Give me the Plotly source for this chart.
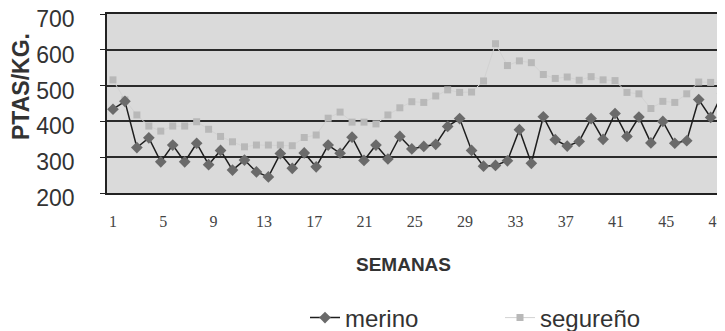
import plotly.graph_objects as go

weeks = list(range(1, 53))
merino = [434, 456, 327, 354, 287, 334, 287, 339, 279, 319, 264, 292, 259, 245, 310, 269,
          312, 273, 334, 311, 356, 291, 334, 295, 358, 323, 330, 336, 386, 408, 319, 275,
          277, 290, 377, 283, 413, 349, 331, 344, 408, 350, 422, 358, 412, 340, 400, 339,
          346, 461, 411, 478]
segureno = [516, 460, 418, 387, 373, 387, 387, 399, 378, 358, 343, 329, 334, 334, 334, 332,
            355, 362, 409, 426, 398, 398, 393, 418, 438, 455, 453, 471, 488, 481, 482, 513,
            617, 556, 569, 564, 531, 520, 524, 515, 525, 516, 514, 481, 477, 436, 456, 453,
            477, 510, 509, 508]
week_labels = [1, 5, 9, 13, 17, 21, 25, 29, 33, 37, 41, 45, 49]
y_ticks = [200, 300, 400, 500, 600, 700]

# the scanned label row is slightly stretched relative to the data points
LABEL_STRETCH = 1.052
label_pos = [1 + (k - 1) * LABEL_STRETCH for k in week_labels]
X_RANGE = [0.5, 52.2]

# the page body adds an 8px offset; lay the figure out in screen pixels minus that
OFF = 8
SW, SH = 725, 331
W, H = SW - OFF, SH - OFF
PLOT_L, PLOT_R, PLOT_T, PLOT_B = 107, 725, 14, 193  # screen pixels
ML, MR = PLOT_L - OFF, SW - PLOT_R
MT, MB = PLOT_T - OFF, SH - PLOT_B
PW, PH = PLOT_R - PLOT_L, PLOT_B - PLOT_T

def px_x(x):
    return (x - PLOT_L) / PW

def px_y(y):
    return (PLOT_B - y) / PH

fig = go.Figure()
fig.add_trace(go.Scatter(
    x=weeks, y=segureno, name="segureño", mode="lines+markers",
    line=dict(color="#d2d2d2", width=1),
    marker=dict(symbol="square", size=7, color="#b8b8b8"),
))
fig.add_trace(go.Scatter(
    x=weeks, y=merino, name="merino", mode="lines+markers",
    line=dict(color="#1e1e1e", width=1.5),
    marker=dict(symbol="diamond", size=9, color="#6a6a6a", line=dict(width=0)),
))

fig.update_layout(
    width=W, height=H,
    margin=dict(l=ML, r=MR, t=MT, b=MB, autoexpand=False),
    paper_bgcolor="white", plot_bgcolor="#dadada",
    font=dict(family="Liberation Sans, Arial, sans-serif", color="#333"),
    showlegend=True,
    legend=dict(
        orientation="h", x=px_x(305), xanchor="left", y=px_y(318), yanchor="middle",
        font=dict(size=24, color="#333"), traceorder="reversed",
        entrywidth=150, bgcolor="rgba(0,0,0,0)",
    ),
    xaxis=dict(
        range=X_RANGE, tickmode="array", tickvals=label_pos,
        ticktext=[str(k) for k in week_labels], ticks="",
        tickfont=dict(family="Liberation Serif, Times New Roman, serif", size=16, color="#444"),
        ticklabelstandoff=13, automargin=False, ticklabeloverflow="allow",
        showgrid=False, zeroline=False, mirror=True,
        showline=True, linecolor="#222", linewidth=1.5,
    ),
    xaxis2=dict(
        range=X_RANGE, overlaying="x", side="bottom", anchor="y",
        tickmode="linear", tick0=0.5, dtick=1, ticks="outside", ticklen=6,
        tickwidth=1.2, tickcolor="#222", showticklabels=False,
        showgrid=False, zeroline=False, showline=False, automargin=False,
    ),
    yaxis=dict(
        range=[200, 700], tickvals=y_ticks, ticks="outside", ticklen=5,
        tickwidth=1.2, tickcolor="#222", automargin=False, ticklabeloverflow="allow",
        tickfont=dict(size=23, color="#333"), ticklabelstandoff=21, ticklabelshift=5,
        showgrid=True, gridcolor="#2a2a2a", gridwidth=1.5,
        zeroline=False, showline=True, linecolor="#222", linewidth=1.5,
    ),
    annotations=[
        dict(text="<b>PTAS/KG.</b>", x=px_x(21), y=px_y(86), xref="paper", yref="paper",
             xanchor="center", yanchor="middle",
             showarrow=False, textangle=-90, font=dict(size=23, color="#333")),
        dict(text="<b>SEMANAS</b>", x=px_x(403), y=px_y(264), xref="paper", yref="paper",
             xanchor="center", yanchor="middle",
             showarrow=False, font=dict(size=19, color="#333")),
    ],
)

fig.write_html("out.html")
